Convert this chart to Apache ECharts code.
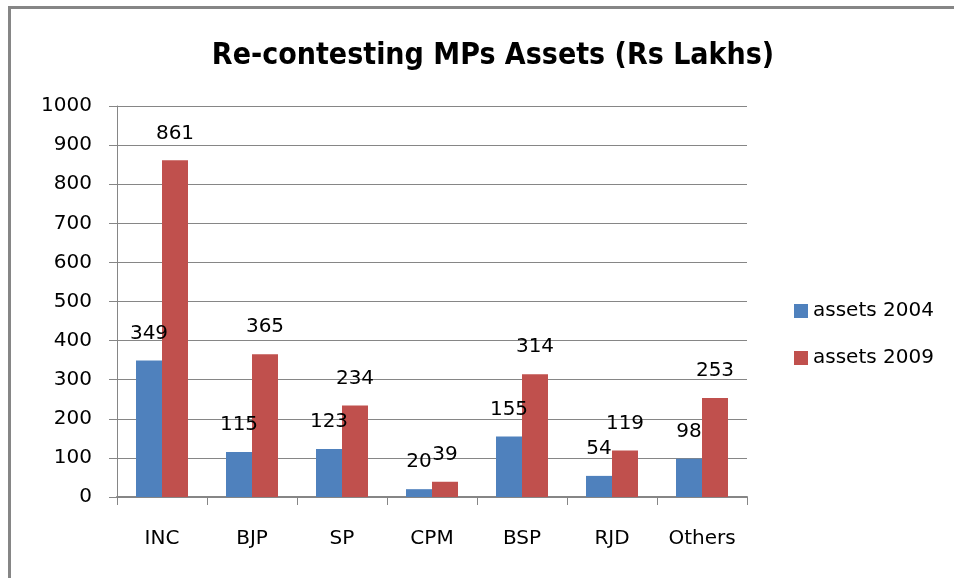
<!DOCTYPE html>
<html><head><meta charset="utf-8">
<script src="https://cdn.jsdelivr.net/npm/echarts@6/dist/echarts.min.js"></script>
<style>html,body{margin:0;padding:0;background:#fff}#c{width:954px;height:578px}</style>
</head><body><div id="c"></div>
<script>
const titleText = 'Re-contesting MPs Assets (Rs Lakhs)';
const categories = ['INC', 'BJP', 'SP', 'CPM', 'BSP', 'RJD', 'Others'];
const assets2004 = [349, 115, 123, 20, 155, 54, 98];
const assets2009 = [861, 365, 234, 39, 314, 119, 253];
const seriesNames = ['assets 2004', 'assets 2009'];

const FONT = '"DejaVu Sans", sans-serif';
const chart = echarts.init(document.getElementById('c'));
chart.setOption({
  animation: false,
  backgroundColor: '#fff',
  title: {
    text: titleText, left: 488, top: 36, textAlign: 'center',
    textStyle: {fontFamily: '"DejaVu Sans Condensed", "Liberation Sans Narrow", sans-serif', fontWeight: 'bold', fontSize: 30, color: '#000'}
  },
  graphic: [
    {type: 'rect', shape: {x: 8, y: 6, width: 946, height: 3}, style: {fill: '#868686'}, silent: true},
    {type: 'rect', shape: {x: 8, y: 6, width: 3, height: 572}, style: {fill: '#868686'}, silent: true}
  ],
  legend: {
    orient: 'vertical', left: 789, top: 296, itemWidth: 14, itemHeight: 14, itemGap: 27,
    icon: 'rect',
    textStyle: {fontFamily: FONT, fontSize: 20, color: '#000', lineHeight: 20},
    data: seriesNames
  },
  grid: {left: 117, right: 207, top: 106, bottom: 81, containLabel: false},
  xAxis: {
    type: 'category', data: categories,
    axisLine: {lineStyle: {color: '#868686', width: 2}},
    axisTick: {show: true, length: 8, lineStyle: {color: '#868686'}},
    axisLabel: {fontFamily: FONT, fontSize: 20, color: '#000', margin: 32}
  },
  yAxis: {
    type: 'value', min: 0, max: 1000, interval: 100,
    axisLine: {show: true, lineStyle: {color: '#868686'}},
    axisTick: {show: true, length: 8, lineStyle: {color: '#868686'}},
    splitLine: {lineStyle: {color: '#868686', width: 1}},
    axisLabel: {fontFamily: FONT, fontSize: 20, color: '#000', margin: 25, formatter: v => String(v)}
  },
  series: [
    {name: seriesNames[0], type: 'bar', data: assets2004, barWidth: 26, barGap: '0%',
     itemStyle: {color: '#4F81BD'},
     label: {show: true, position: 'top', distance: 17, fontFamily: FONT, fontSize: 20, color: '#000'}},
    {name: seriesNames[1], type: 'bar', data: assets2009, barWidth: 26, barGap: '0%',
     itemStyle: {color: '#C0504D'},
     label: {show: true, position: 'top', distance: 17, fontFamily: FONT, fontSize: 20, color: '#000'}}
  ]
});
</script></body></html>
